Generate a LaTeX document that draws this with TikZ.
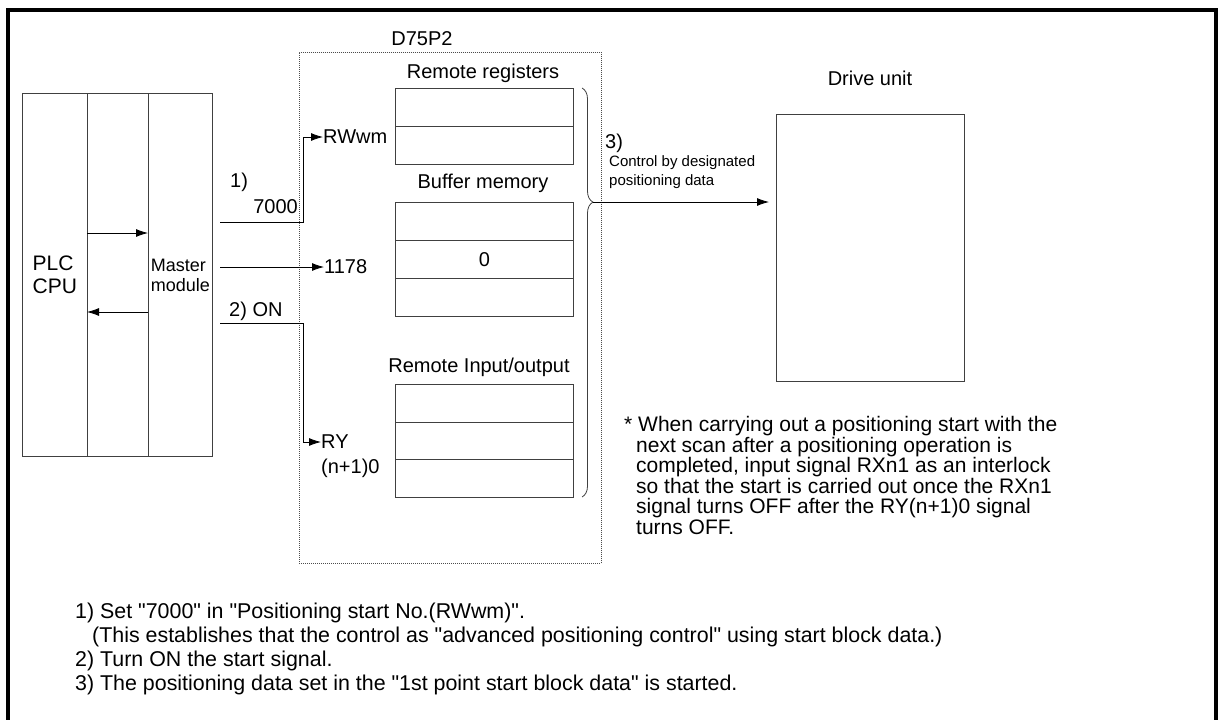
\documentclass[tikz,border=0pt]{standalone}
\usepackage{fontspec}
\setmainfont{Liberation Sans}[Ligatures=TeXOff]
\usetikzlibrary{arrows.meta, decorations.pathreplacing, math}

\tikzset{
  box/.style={draw=black!75, line width=0.8pt, inner sep=0pt},
  cell/.style={box, minimum width=178pt, minimum height=38pt, anchor=north west},
  wire/.style={line width=0.8pt},
  arr/.style={wire, -{Latex[length=12pt, width=8pt]}},
  lbl/.style={inner sep=0pt, font=\fontsize{20}{22}\selectfont},
  notes/.style={anchor=north west, align=left, inner sep=0pt, font=\fontsize{21}{20.6}\selectfont},
}

\begin{document}
\begin{tikzpicture}[x=1pt, y=-1pt]
\tikzmath{
\cx=395;
\rh=38;
\ioh=37.7;
}
\useasboundingbox (0,0) rectangle (1218,720);
% frame
\draw[line width=3.6pt] (8,720) -- (8,10) -- (1216,10) -- (1216,720);

% PLC unit
\node[box, minimum width=65pt, minimum height=363pt, anchor=north west, align=left,
  font=\fontsize{21}{23}\selectfont] (cpu) at (22,93) {PLC\\CPU};
\node[box, minimum width=61pt, minimum height=363pt, anchor=north west] (bus) at (87,93) {};
\node[box, minimum width=64pt, minimum height=363pt, anchor=north west, align=left,
  font=\fontsize{18}{20}\selectfont] (master) at (148,93) {Master\\module};
\coordinate (h1) at (0,233);
\coordinate (h2) at (0,312);
\draw[arr] (bus.west |- h1) -- (master.west |- h1);
\draw[arr] (master.west |- h2) -- (bus.west |- h2);

% D75P2
\node[draw=black!70, line width=0.8pt, dash pattern=on 1pt off 1pt, minimum width=302pt,
  minimum height=511pt, anchor=north west, inner sep=0pt] (d75) at (299,52) {};
\node[lbl] (d75lbl) at (422,39) {D75P2};

\foreach \i in {1,2}
  \node[cell] (rr\i) at (\cx,{88+(\i-1)*\rh}) {};
\foreach \i in {1,2,3}
  \node[cell] (bm\i) at (\cx,{202+(\i-1)*\rh}) {};
\foreach \i in {1,2,3}
  \node[cell, minimum height=\ioh pt] (io\i) at (\cx,{384+(\i-1)*\ioh}) {};
\node[lbl] (zero) at (bm2) {0};
\node[lbl] (rrlbl) at (483,73) {Remote registers};
\node[lbl] (bmlbl) at (483,183) {Buffer memory};
\node[lbl] (iolbl) at (479,367) {Remote Input/output};

% signals from master module
\node[lbl, anchor=west] (rwwm) at (323,137) {RWwm};
\node[lbl, anchor=west] (n1178) at (324,267) {1178};
\node[lbl, anchor=west] (ry) at (321,442) {RY};
\node[lbl, anchor=west] (ryn) at (321,468) {(n+1)0};
\coordinate (s1) at (220,222);
\coordinate (s2) at (220,267);
\coordinate (s3) at (220,323);
\draw[arr] (s1) -- ++(83,0) |- (rwwm.west);
\draw[arr] (s2) -- (n1178.west);
\draw[arr] (s3) -- ++(83,0) |- (ry.west);
\node[lbl, anchor=west] (l1) at (230,182) {1)};
\node[lbl, anchor=east] (l7000) at (298,207) {7000};
\node[lbl, anchor=west] (l2) at (229,311) {2) ON};

% brace and drive unit
\draw[wire, black!75, decorate, decoration={brace, amplitude=11pt, aspect=0.279}]
  (582,88) -- (582,497);
\coordinate (btip) at (593,202);
\node[box, minimum width=188pt, minimum height=267pt, anchor=north west] (drive) at (776,114) {};
\node[lbl] (drivelbl) at (870,78) {Drive unit};
\draw[arr, shorten >=7pt] (btip) -- (drive.west |- btip);
\node[lbl, anchor=west] (l3) at (605,143) {3)};
\node[anchor=west, align=left, inner sep=0pt, font=\fontsize{15}{19}\selectfont] (ctl)
  at (609,172) {Control by designated\\positioning data};

% notes
\node[notes] (note) at (624,416) {* When carrying out a positioning start with the\\
  \hspace*{12pt}next scan after a positioning operation is\\
  \hspace*{12pt}completed, input signal RXn1 as an interlock\\
  \hspace*{12pt}so that the start is carried out once the RXn1\\
  \hspace*{12pt}signal turns OFF after the RY(n+1)0 signal\\
  \hspace*{12pt}turns OFF.};
\node[notes, font=\fontsize{21.4}{24}\selectfont] (steps) at (75,603) {1) Set "7000" in "Positioning start No.(RWwm)".\\
  \hspace*{17pt}(This establishes that the control as "advanced positioning control" using start block data.)\\
  2) Turn ON the start signal.\\
  3) The positioning data set in the "1st point start block data" is started.};
\end{tikzpicture}
\end{document}
